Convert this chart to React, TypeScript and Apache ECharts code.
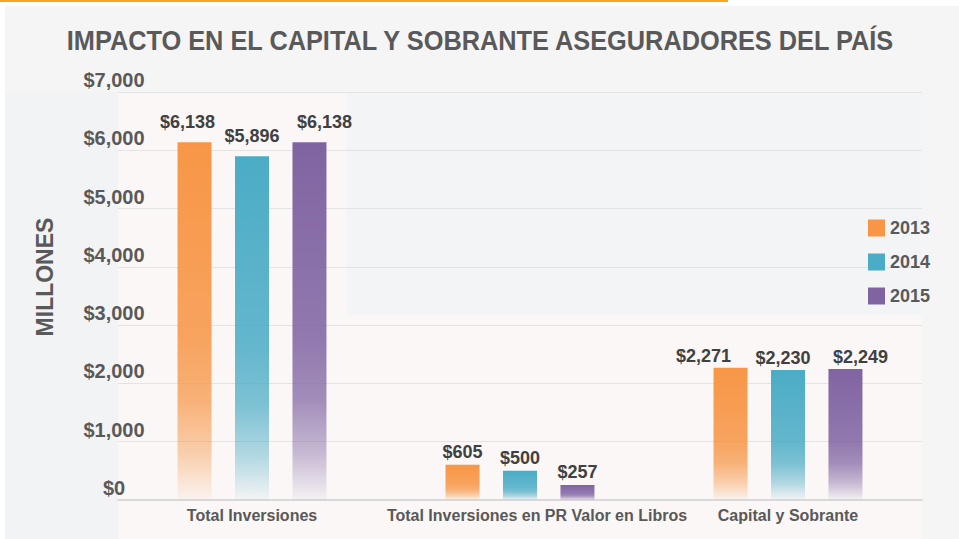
import React, { useEffect, useRef } from "react";
import * as echarts from "echarts";

const titleText = "IMPACTO EN EL CAPITAL Y SOBRANTE ASEGURADORES DEL PAÍS";
const axisName = "MILLONES";
const categories = [
  "Total Inversiones",
  "Total Inversiones en PR Valor en Libros",
  "Capital y Sobrante",
];
const years = ["2013", "2014", "2015"];
const values2013 = [6138, 605, 2271];
const values2014 = [5896, 500, 2230];
const values2015 = [6138, 257, 2249];
const yMin = 0;
const yMax = 7000;
const yInterval = 1000;

// layout / style constants
const colors = ["#F79646", "#4BACC6", "#8064A2"];
const labelOffsets = [
  [[-7, -6], [0, 1], [-27, 2]],
  [[0, -6], [0, 1], [-5, 2]],
  [[15, -6], [0, 1], [15, 2]],
];
const categoryLabelShift = [0, 34, 0];
const FONT = "'Liberation Sans', Arial, Helvetica, sans-serif";

function rgba(hex: string, a: number) {
  const r = parseInt(hex.slice(1, 3), 16);
  const g = parseInt(hex.slice(3, 5), 16);
  const b = parseInt(hex.slice(5, 7), 16);
  return `rgba(${r},${g},${b},${a})`;
}

function money(v: number) {
  return "$" + v.toLocaleString("en-US");
}

export default function App() {
  const ref = useRef<HTMLDivElement>(null);
  useEffect(() => {
    if (!ref.current) return;
    const chart = echarts.init(ref.current, null, { renderer: "svg" });
    const seriesValues = [values2013, values2014, values2015];
    const series = years.map((y, si) => ({
      name: y,
      type: "bar",
      barWidth: 34,
      barGap: "69%",
      z: 3,
      itemStyle: {
        color: new echarts.graphic.LinearGradient(0, 0, 0, 1, [
          { offset: 0, color: rgba(colors[si], 1) },
          { offset: 0.55, color: rgba(colors[si], 0.86) },
          { offset: 0.72, color: rgba(colors[si], 0.72) },
          { offset: 0.87, color: rgba(colors[si], 0.42) },
          { offset: 1, color: rgba(colors[si], 0.04) },
        ]),
      },
      label: {
        show: true,
        position: "top",
        distance: 5,
        formatter: (p: any) => money(p.value),
        fontSize: 18,
        lineHeight: 18,
        fontWeight: "bold",
        color: "#404040",
        fontFamily: FONT,
      },
      data: seriesValues[si].map((v, ci) => ({
        value: v,
        label: { offset: labelOffsets[si][ci] },
      })),
    }));

    const titleFont = 28;
    chart.setOption({
      animation: false,
      backgroundColor: "#ffffff",
      textStyle: { fontFamily: FONT },
      grid: { left: 118, right: 37, top: 92, bottom: 39, containLabel: false },
      legend: {
        data: years.map((y, i) => ({ name: y, itemStyle: { color: colors[i] } })),
        orient: "vertical",
        left: 863,
        top: 214,
        itemWidth: 17,
        itemHeight: 17,
        itemGap: 16,
        icon: "rect",
        selectedMode: false,
        textStyle: {
          fontSize: 18,
          lineHeight: 17,
          fontWeight: "bold",
          color: "#595959",
          fontFamily: FONT,
        },
      },
      xAxis: {
        type: "category",
        data: categories.map((c, i) => ({
          value: c,
          textStyle: { padding: [0, 0, 0, categoryLabelShift[i]] },
        })),
        axisLine: { show: true, lineStyle: { color: "#d9d9d9", width: 2 } },
        axisTick: { show: false },
        axisLabel: {
          interval: 0,
          fontSize: 16,
          fontWeight: "bold",
          color: "#595959",
          margin: 7,
          fontFamily: FONT,
        },
      },
      yAxis: {
        type: "value",
        min: yMin,
        max: yMax,
        interval: yInterval,
        axisLine: { show: false },
        axisTick: { show: false },
        splitLine: { lineStyle: { color: "#e3e3e3", width: 1 } },
        axisLabel: {
          formatter: (v: number) => money(v),
          fontSize: 20,
          lineHeight: 24,
          verticalAlign: "bottom",
          fontWeight: "bold",
          color: "#595959",
          margin: 4,
          align: "center",
          fontFamily: FONT,
        },
      },
      graphic: [
        { type: "rect", z: -10, silent: true, shape: { x: 5, y: 6, width: 954, height: 533 }, style: { fill: "#f5f5f5" } },
        { type: "rect", z: -9, silent: true, shape: { x: 5, y: 92, width: 113, height: 447 }, style: { fill: "#f2f3f5" } },
        { type: "rect", z: -9, silent: true, shape: { x: 118, y: 92, width: 804, height: 447 }, style: { fill: "#faf7f6" } },
        { type: "rect", z: -8, silent: true, shape: { x: 347, y: 92, width: 575, height: 223 }, style: { fill: "#f3f4f6" } },
        { type: "rect", z: -8, silent: true, shape: { x: 0, y: 0, width: 728, height: 2 }, style: { fill: "#f5a623" } },
        {
          type: "text",
          z: 10,
          x: 480,
          y: 41,
          scaleX: 0.905,
          style: {
            text: titleText,
            fontSize: titleFont,
            fontWeight: "bold",
            fill: "#595959",
            align: "center",
            verticalAlign: "middle",
            fontFamily: FONT,
          },
        },
        {
          type: "text",
          z: 10,
          x: 45,
          y: 277,
          rotation: Math.PI / 2,
          style: {
            text: axisName,
            fontSize: 23,
            fontWeight: "bold",
            fill: "#595959",
            align: "center",
            verticalAlign: "middle",
            fontFamily: FONT,
          },
        },
      ],
      series,
    });
    return () => chart.dispose();
  }, []);
  return (
    <div
      ref={ref}
      style={{ position: "fixed", left: 0, top: 0, width: 959, height: 539 }}
    />
  );
}
